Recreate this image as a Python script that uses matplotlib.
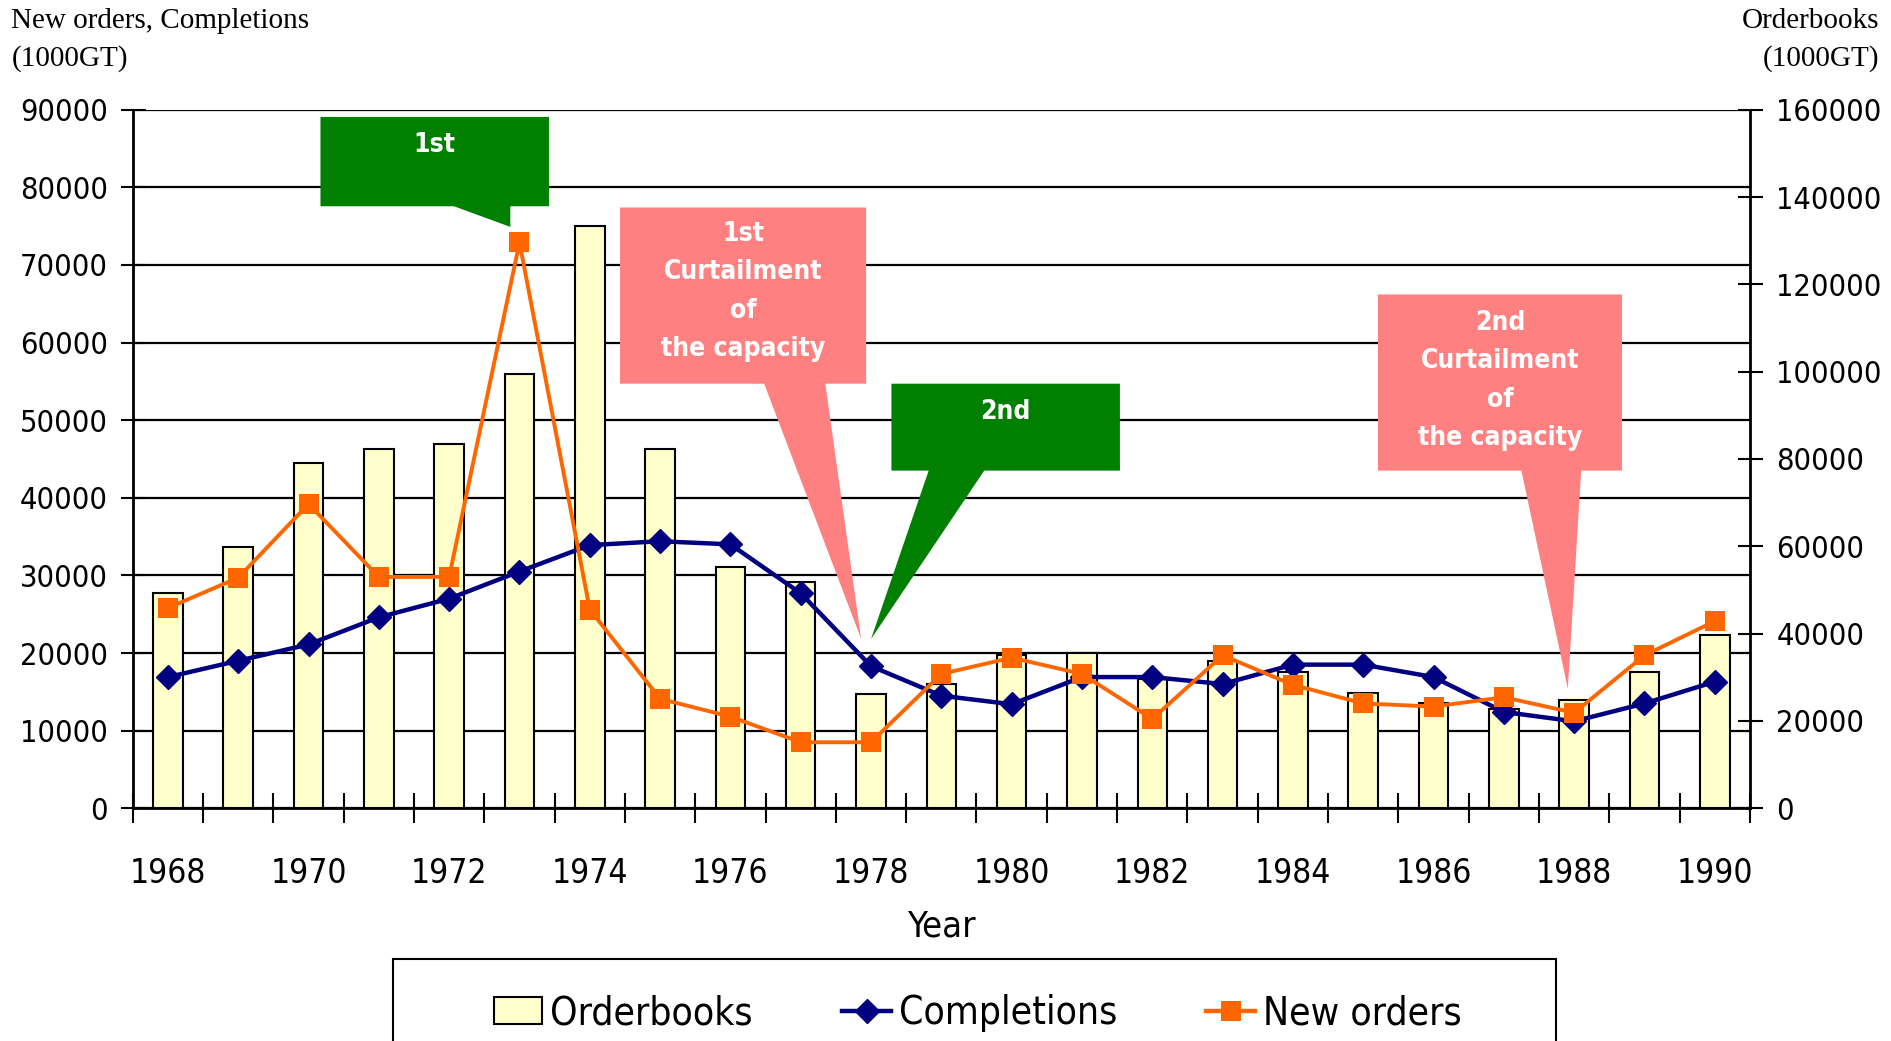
import numpy as np
import matplotlib
matplotlib.use('Agg')
import matplotlib.pyplot as plt
from matplotlib.patches import Polygon, Patch, Rectangle
from matplotlib.lines import Line2D
from matplotlib import font_manager

# data (1000GT)
years = list(range(1968, 1991))
orderbooks = [49400, 59900, 79000, 82300, 83400, 99400, 133400, 82300, 55200, 51900,
              26200, 28500, 35100, 35600, 29600, 33700, 31200, 26300, 24200, 22700,
              24800, 31200, 39700]
completions = [16900, 19000, 21100, 24600, 27000, 30500, 33900, 34400, 34000, 27700,
               18300, 14500, 13400, 16900, 16900, 16000, 18500, 18500, 16900, 12400,
               11200, 13500, 16300]
new_orders = [25800, 29700, 39200, 29800, 29800, 72900, 25600, 14100, 11800, 8500,
              8500, 17300, 19400, 17300, 11500, 19700, 15900, 13500, 13100, 14300,
              12300, 19700, 24100]

# callouts: text, colour, box (x0, x1, y0, y1), pointer base (bx0, bx1), tip, text y
callouts = [
    ('1st', '#007F00', (2.17, 5.42, 77560, 89070), (4.07, 4.87), (4.87, 74900), 85500),
    ('1st\nCurtailment\nof\nthe capacity', '#FF8080', (6.43, 9.93, 54700, 77400),
     (8.48, 9.35), (9.86, 21800), 66600),
    ('2nd', '#007F00', (10.29, 13.54, 43500, 54700), (10.82, 11.61), (10.0, 21800), 51000),
    ('2nd\nCurtailment\nof\nthe capacity', '#FF8080', (17.21, 20.68, 43500, 66200),
     (19.25, 20.10), (19.91, 15400), 55100),
]

serif = ['Liberation Serif', 'DejaVu Serif']


def narrow(size, weight='normal'):
    return font_manager.FontProperties(family='DejaVu Sans', stretch='condensed',
                                       size=size, weight=weight)


fig = plt.figure(figsize=(18.91, 10.41), dpi=100)
ax = fig.add_axes([0.0702, 0.2236, 0.8552, 0.671])
ax2 = ax.twinx()
ax3 = ax.twinx()
ax.set_zorder(0)
ax2.set_zorder(1)
ax3.set_zorder(2)
ax2.patch.set_visible(False)
ax3.patch.set_visible(False)

idx = np.arange(len(years))

# gridlines on the bottom axis so bars cover them
ax.set_ylim(0, 90000)
ax.set_yticks(range(0, 90001, 10000))
ax.yaxis.grid(True, color='black', linewidth=1.6)
ax.set_axisbelow(True)

ax2.bar(idx, orderbooks, width=0.42, color='#FFFFCC', edgecolor='black', linewidth=1.5)
ax2.set_ylim(0, 160000)
ax2.set_yticks(range(0, 160001, 20000))

ax3.plot(idx, completions, color='#000080', linewidth=3.2, marker='D', markersize=12)
ax3.plot(idx, new_orders, color='#FF6600', linewidth=2.8, marker='s', markersize=15,
         markeredgewidth=0)
ax3.set_ylim(0, 90000)
ax3.yaxis.set_visible(False)

for a in (ax, ax2, ax3):
    a.set_xlim(-0.5, 22.5)
    for s in a.spines.values():
        s.set_visible(False)
for side in ('left', 'bottom'):
    ax.spines[side].set_visible(True)
    ax.spines[side].set_linewidth(2)
ax2.spines['right'].set_visible(True)
ax2.spines['right'].set_linewidth(2)

# callout shapes
for text, col, (x0, x1, y0, y1), (bx0, bx1), (tx, ty), texty in callouts:
    verts = [(x0, y1), (x1, y1), (x1, y0), (bx1, y0), (tx, ty), (bx0, y0), (x0, y0)]
    ax3.add_patch(Polygon(verts, closed=True, facecolor=col, edgecolor='none',
                          zorder=5, clip_on=False))
    ax3.text((x0 + x1) / 2, texty, text, color='white', ha='center', va='center',
             fontproperties=narrow(19, 'bold'), linespacing=1.62, zorder=6)

# x axis: ticks between categories, labels every other year
ax.set_xticks(np.arange(-0.5, 23, 1))
ax.set_xticklabels([])
ax.set_xticks(idx[::2], minor=True)
ax.set_xticklabels([str(y) for y in years[::2]], minor=True, fontproperties=narrow(24))
ax.tick_params(axis='x', which='major', direction='inout', length=22, width=1.5)
ax.tick_params(axis='x', which='minor', length=0, pad=35)
ax.set_xlabel('Year', fontproperties=narrow(26), labelpad=14)

ax.tick_params(axis='y', direction='inout', length=18, width=1.5, pad=9)
ax2.tick_params(axis='y', direction='inout', length=18, width=1.5, pad=10)
for lab in ax.get_yticklabels() + ax2.get_yticklabels():
    lab.set_fontproperties(narrow(22))

fig.text(0.006, 0.98, 'New orders, Completions', fontsize=21, family=serif, va='center')
fig.text(0.006, 0.944, '(1000GT)', fontsize=21, family=serif, va='center')
fig.text(0.994, 0.98, 'Orderbooks', fontsize=21, family=serif, va='center', ha='right')
fig.text(0.994, 0.944, '(1000GT)', fontsize=21, family=serif, va='center', ha='right')

# legend box, cut by the bottom edge as in the source
fig.patches.append(Rectangle((0.2079, -0.1), 0.6148, 1 - 795 / 863 + 0.1,
                             transform=fig.transFigure, facecolor='white',
                             edgecolor='black', linewidth=1.5))
handles = [Patch(facecolor='#FFFFCC', edgecolor='black', linewidth=1.5),
           Line2D([], [], color='#000080', linewidth=3.2, marker='D', markersize=12),
           Line2D([], [], color='#FF6600', linewidth=3.2, marker='s', markersize=15,
                  markeredgewidth=0)]
leg = fig.legend(handles, ['Orderbooks', 'Completions', 'New orders'], ncol=3,
                 loc='center', bbox_to_anchor=(0.517, 1 - 840 / 863), frameon=False,
                 handlelength=1.25, handletextpad=0.2, columnspacing=2.3,
                 prop=narrow(28))

fig.savefig('out.png', dpi=100)
